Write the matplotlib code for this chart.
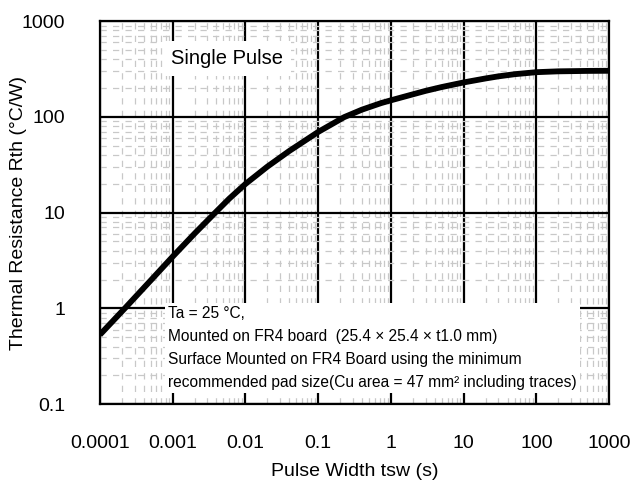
import matplotlib
matplotlib.use('Agg')
import matplotlib.pyplot as plt
from matplotlib.ticker import LogLocator, NullFormatter, FixedLocator, FixedFormatter

plt.rcParams['font.family'] = ['Liberation Sans', 'DejaVu Sans']

# pulse width (s) and thermal resistance (°C/W)
pulse_width = [1e-4, 2.2e-4, 5e-4, 1e-3, 2e-3, 3.8e-3, 6e-3, 1e-2, 2e-2, 4e-2, 0.1,
               0.228, 0.4, 0.736, 1, 2, 3, 5, 10, 20, 30, 50, 100, 200, 500, 1000]
rth = [0.53, 1.0, 1.96, 3.47, 6.04, 9.9, 14.0, 19.9, 30.2, 44, 69.6,
       99.4, 119, 139.5, 149, 172, 187, 205, 229, 252, 265, 279, 293, 299, 302, 303]

x_ticks = [1e-4, 1e-3, 1e-2, 1e-1, 1, 10, 100, 1000]
x_labels = ['0.0001', '0.001', '0.01', '0.1', '1', '10', '100', '1000']
y_ticks = [0.1, 1, 10, 100, 1000]
y_labels = ['0.1', '1', '10', '100', '1000']

note_lines = [
    'Ta = 25 °C,',
    'Mounted on FR4 board  (25.4 × 25.4 × t1.0 mm)',
    'Surface Mounted on FR4 Board using the minimum',
    'recommended pad size(Cu area = 47 mm² including traces)',
]

fig = plt.figure(figsize=(6.32, 4.8), dpi=100)
ax = fig.add_axes([0.158, 0.158, 0.806, 0.798])

ax.set_xscale('log')
ax.set_yscale('log')
ax.set_xlim(1e-4, 1000)
ax.set_ylim(0.1, 1000)

ax.xaxis.set_major_locator(FixedLocator(x_ticks))
ax.xaxis.set_major_formatter(FixedFormatter(x_labels))
ax.yaxis.set_major_locator(FixedLocator(y_ticks))
ax.yaxis.set_major_formatter(FixedFormatter(y_labels))
ax.xaxis.set_minor_locator(LogLocator(base=10, subs=range(2, 10), numticks=20))
ax.yaxis.set_minor_locator(LogLocator(base=10, subs=range(2, 10), numticks=20))
ax.xaxis.set_minor_formatter(NullFormatter())
ax.yaxis.set_minor_formatter(NullFormatter())

ax.grid(True, which='minor', color='#c8c8c8', linestyle=(0, (5, 5)), linewidth=0.9, zorder=0)
ax.grid(True, which='major', color='black', linewidth=1.6, zorder=1)
ax.tick_params(which='both', length=0, labelsize=14)
ax.tick_params(axis='x', pad=22)
ax.tick_params(axis='y', pad=25)

for s in ax.spines.values():
    s.set_linewidth(1.6)
    s.set_zorder(5)

ax.plot(pulse_width, rth, color='black', linewidth=4.2, solid_joinstyle='round',
        solid_capstyle='butt', zorder=3)

ax.text(0.0056, 410, 'Single Pulse', fontsize=14.5, ha='center', va='center', zorder=4,
        bbox=dict(facecolor='white', edgecolor='none', boxstyle='square,pad=0.4'))

ax.text(0.00086, 1.05, '\n'.join(note_lines), fontsize=11.2, ha='left', va='top',
        linespacing=1.66, zorder=4,
        bbox=dict(facecolor='white', edgecolor='none', boxstyle='square,pad=0.2'))

ax.set_xlabel('Pulse Width tsw (s)', fontsize=14, labelpad=8)
ax.set_ylabel('Thermal Resistance Rth (°C/W)', fontsize=14)
ax.yaxis.set_label_coords(-0.143, 0.5)

fig.savefig('out.png', dpi=100)
